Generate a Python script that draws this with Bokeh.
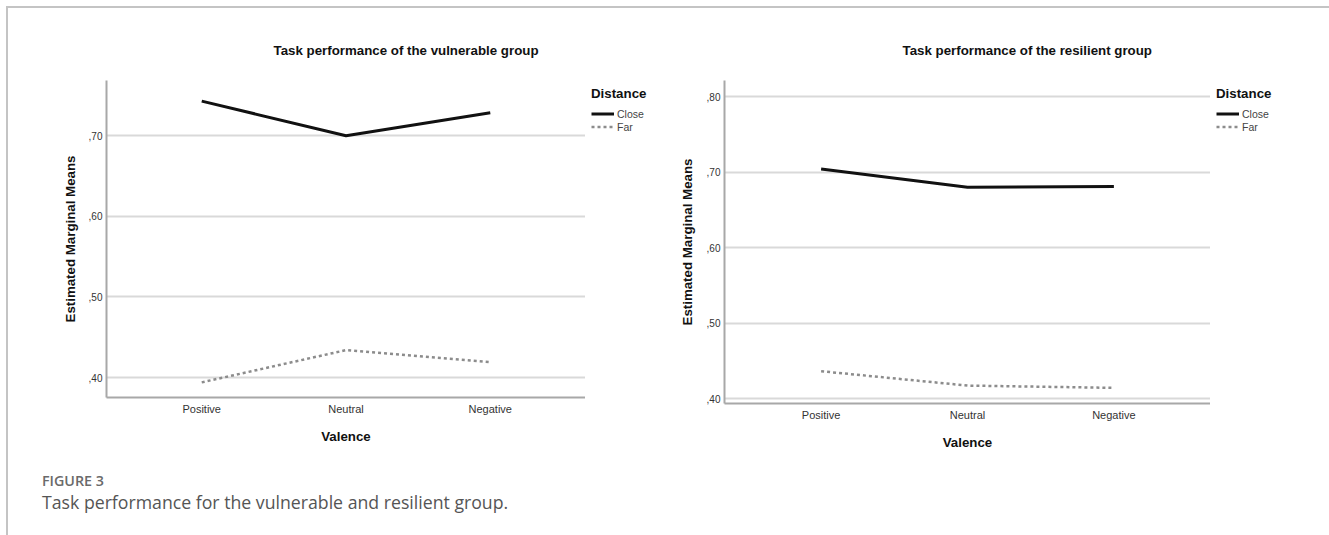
from bokeh.plotting import figure
from bokeh.models import (FactorRange, Range1d, FixedTicker, CustomJSTickFormatter,
                          Legend, LegendItem, Div, ColumnDataSource, Title)
from bokeh.layouts import row, column
from bokeh.embed import file_html
from bokeh.resources import INLINE

# ---------------- data ----------------
valence = ["Positive", "Neutral", "Negative"]

vulnerable_close = [0.743, 0.700, 0.7285]
vulnerable_far = [0.394, 0.434, 0.419]

resilient_close = [0.704, 0.680, 0.681]
resilient_far = [0.4365, 0.4175, 0.4145]

vulnerable_ticks = [0.4, 0.5, 0.6, 0.7]
resilient_ticks = [0.4, 0.5, 0.6, 0.7, 0.8]

distance_labels = ["Close", "Far"]
titles = ["Task performance of the vulnerable group",
          "Task performance of the resilient group"]
y_title = "Estimated Marginal Means"
x_title = "Valence"
legend_title = "Distance"
fig_label = "FIGURE 3"
caption = "Task performance for the vulnerable and resilient group."

FONT = "Liberation Sans"
BOLD_SIZE = "13.3px"
HEIGHT = 452
TOP = 72
BOTTOM = 57

CLOSE_STYLE = dict(line_color="#111111", line_width=3)
FAR_STYLE = dict(line_color="#8c8c8c", line_width=2.5, line_dash="3 3")


def make_chart(title, close, far, ticks, y_start, y_end, frame_w, frame_h,
               b_left, title_offset, label_standoff_x, label_standoff_y):
    src = ColumnDataSource(dict(x=valence, close=close, far=far))
    p = figure(x_range=FactorRange(factors=valence, range_padding=0.32 / 3,
                                   range_padding_units="percent"),
               y_range=Range1d(y_start, y_end),
               width=b_left + frame_w, height=TOP + frame_h + BOTTOM,
               output_backend="svg", toolbar_location=None,
               min_border_left=b_left, min_border_right=0,
               min_border_top=TOP, min_border_bottom=BOTTOM)
    p.outline_line_color = None
    p.background_fill_color = "white"
    p.border_fill_color = "white"

    p.line(x="x", y="close", source=src, **CLOSE_STYLE)
    p.line(x="x", y="far", source=src, **FAR_STYLE)

    for ax in (p.xaxis[0], p.yaxis[0]):
        ax.axis_line_color = "#a8a8a8"
        ax.axis_line_width = 2
        ax.major_tick_line_color = None
        ax.minor_tick_line_color = None
        ax.major_tick_in = 0
        ax.major_tick_out = 0
        ax.axis_label_text_font = FONT
        ax.axis_label_text_font_style = "bold"
        ax.axis_label_text_font_size = BOLD_SIZE
        ax.axis_label_text_color = "#111111"
        ax.major_label_text_font = FONT
        ax.major_label_text_color = "#333333"

    p.xaxis.axis_label = x_title
    p.xaxis.major_label_text_font_size = "11px"
    p.xaxis.major_label_standoff = 5
    p.xaxis.axis_label_standoff = label_standoff_x

    p.yaxis.axis_label = y_title
    p.yaxis.ticker = FixedTicker(ticks=ticks)
    p.yaxis.formatter = CustomJSTickFormatter(
        code="return ',' + (tick * 100).toFixed(0);")
    p.yaxis.major_label_text_font_size = "10px"
    p.yaxis.major_label_standoff = 4
    p.yaxis.axis_label_standoff = label_standoff_y

    p.xgrid.visible = False
    p.ygrid.grid_line_color = "#d9d9d9"
    p.ygrid.grid_line_width = 2

    p.add_layout(Title(text=title, align="left", offset=title_offset,
                       text_font=FONT, text_font_style="bold",
                       text_font_size=BOLD_SIZE, text_color="#111111",
                       standoff=46), "above")
    return p


def make_legend(width):
    lg = figure(width=width, height=HEIGHT, x_range=Range1d(0, 1), y_range=Range1d(0, 1),
                output_backend="svg", toolbar_location=None,
                x_axis_location=None, y_axis_location=None,
                min_border_left=0, min_border_right=0,
                min_border_top=TOP, min_border_bottom=0)
    lg.outline_line_color = None
    lg.grid.visible = False
    nan = float("nan")
    r_close = lg.line(x=[nan], y=[nan], **CLOSE_STYLE)
    r_far = lg.line(x=[nan], y=[nan], **FAR_STYLE)
    legend = Legend(items=[LegendItem(label=distance_labels[0], renderers=[r_close]),
                           LegendItem(label=distance_labels[1], renderers=[r_far])],
                    location="top_left", title=legend_title,
                    title_text_font=FONT, title_text_font_style="bold",
                    title_text_font_size=BOLD_SIZE, title_text_color="#111111",
                    title_standoff=6,
                    label_text_font=FONT, label_text_font_size="10.5px",
                    label_text_color="#444444",
                    glyph_width=23, glyph_height=13, label_height=13,
                    label_standoff=3, spacing=0, padding=4, margin=6,
                    border_line_color=None, background_fill_alpha=0)
    lg.add_layout(legend)
    return lg


p1 = make_chart(titles[0], vulnerable_close, vulnerable_far, vulnerable_ticks,
                0.3752, 0.7686, 479, 317, 98, 167, 11, 8)
l1 = make_legend(79)
p2 = make_chart(titles[1], resilient_close, resilient_far, resilient_ticks,
                0.3938, 0.8212, 486, 323, 60, 178, 11, 9)
l2 = make_legend(111)

cap = Div(text=(
    '<div style="padding-left:29px;padding-top:7px;font-family:\'Open Sans\',sans-serif;">'
    '<div style="font-size:14.3px;font-weight:600;color:#6a6a6a;line-height:18px;">'
    + fig_label + '</div>'
    '<div style="font-size:17.7px;color:#555555;line-height:24px;">'
    + caption + '</div></div>'), width=1313, height=67)

layout = column(row(p1, l1, p2, l2), cap,
                styles={"margin-left": "6px", "margin-top": "6px",
                        "border-left": "2px solid #c4c4c4",
                        "border-top": "2px solid #c4c4c4"})

open("out.html", "w").write(file_html(layout, INLINE))
